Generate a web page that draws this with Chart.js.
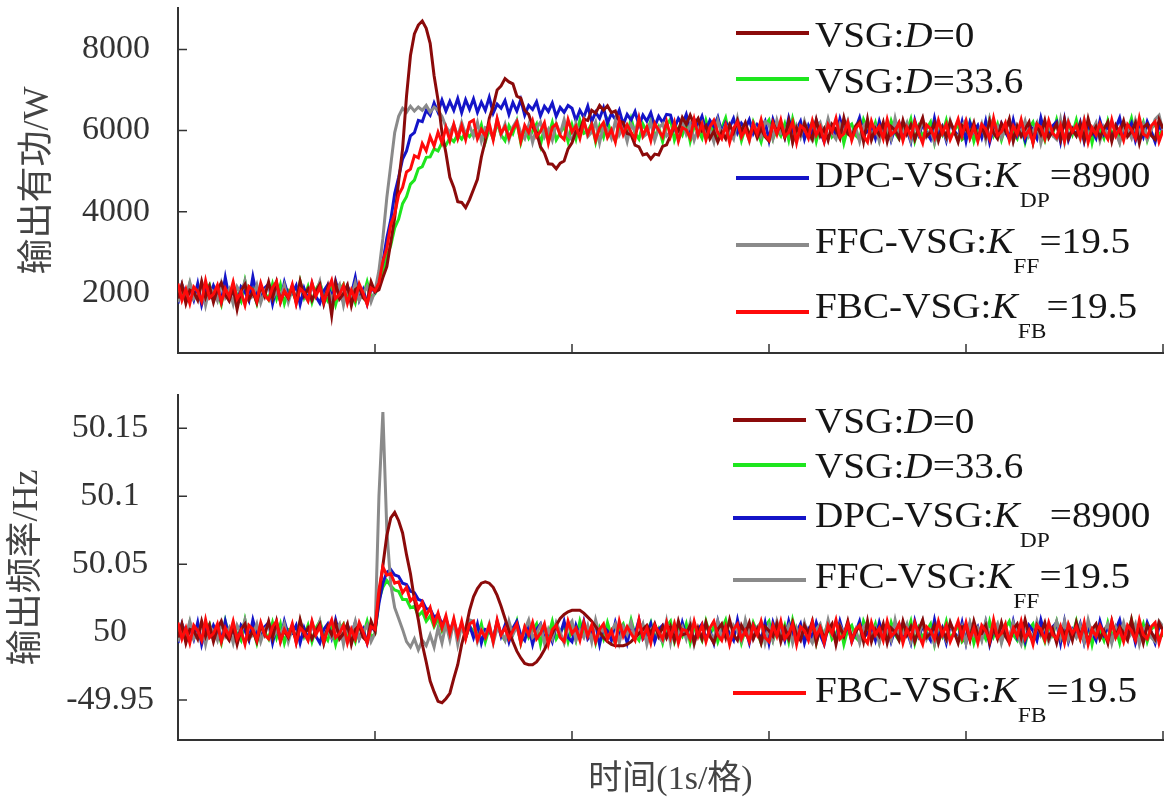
<!DOCTYPE html>
<html lang="zh">
<head>
<meta charset="utf-8">
<title>VSG 输出有功与频率</title>
<script src="https://cdn.jsdelivr.net/npm/chart.js@4.4.1/dist/chart.umd.min.js"></script>
<style>
  html, body { margin: 0; padding: 0; background: #fff; }
  body { position: relative; width: 1170px; height: 807px; overflow: hidden;
         font-family: 'Liberation Serif', 'Noto Sans CJK SC', serif; }
  .panel { position: absolute; left: 0; width: 1170px; }
  .panel canvas { display: block; }
  #powerPanel { top: 0; height: 365px; }
  #freqPanel { top: 380px; height: 427px; }
  .swatch { position: absolute; width: 73px; height: 4px; }
  .label { position: absolute; font-size: 35px; line-height: 35px; color: #151515;
           white-space: nowrap; transform: scaleX(1.12); transform-origin: 0 0; }
  .label sub { font-size: 21px; line-height: 0; vertical-align: -20px; }
</style>
</head>
<body>
<div class="panel" id="powerPanel"><canvas id="powerChart" width="1170" height="365"></canvas></div>
<div class="panel" id="freqPanel"><canvas id="freqChart" width="1170" height="427"></canvas></div>

<script>
// sample times (s), one point every 0.02 s
const time = [
  0,0.02,0.04,0.06,0.08,0.1,0.12,0.14,0.16,0.18,0.2,0.22,0.24,0.26,0.28,0.3,0.32,0.34,0.36,0.38,0.4,0.42,0.44,0.46,0.48,
  0.5,0.52,0.54,0.56,0.58,0.6,0.62,0.64,0.66,0.68,0.7,0.72,0.74,0.76,0.78,0.8,0.82,0.84,0.86,0.88,0.9,0.92,0.94,0.96,0.98,
  1,1.02,1.04,1.06,1.08,1.1,1.12,1.14,1.16,1.18,1.2,1.22,1.24,1.26,1.28,1.3,1.32,1.34,1.36,1.38,1.4,1.42,1.44,1.46,1.48,
  1.5,1.52,1.54,1.56,1.58,1.6,1.62,1.64,1.66,1.68,1.7,1.72,1.74,1.76,1.78,1.8,1.82,1.84,1.86,1.88,1.9,1.92,1.94,1.96,1.98,
  2,2.02,2.04,2.06,2.08,2.1,2.12,2.14,2.16,2.18,2.2,2.22,2.24,2.26,2.28,2.3,2.32,2.34,2.36,2.38,2.4,2.42,2.44,2.46,2.48,
  2.5,2.52,2.54,2.56,2.58,2.6,2.62,2.64,2.66,2.68,2.7,2.72,2.74,2.76,2.78,2.8,2.82,2.84,2.86,2.88,2.9,2.92,2.94,2.96,2.98,
  3,3.02,3.04,3.06,3.08,3.1,3.12,3.14,3.16,3.18,3.2,3.22,3.24,3.26,3.28,3.3,3.32,3.34,3.36,3.38,3.4,3.42,3.44,3.46,3.48,
  3.5,3.52,3.54,3.56,3.58,3.6,3.62,3.64,3.66,3.68,3.7,3.72,3.74,3.76,3.78,3.8,3.82,3.84,3.86,3.88,3.9,3.92,3.94,3.96,3.98,
  4,4.02,4.04,4.06,4.08,4.1,4.12,4.14,4.16,4.18,4.2,4.22,4.24,4.26,4.28,4.3,4.32,4.34,4.36,4.38,4.4,4.42,4.44,4.46,4.48,
  4.5,4.52,4.54,4.56,4.58,4.6,4.62,4.64,4.66,4.68,4.7,4.72,4.74,4.76,4.78,4.8,4.82,4.84,4.86,4.88,4.9,4.92,4.94,4.96,4.98,
  5
];

const seriesNames = ['VSG:D=0', 'VSG:D=33.6', 'DPC-VSG:KDP=8900', 'FFC-VSG:KFF=19.5', 'FBC-VSG:KFB=19.5'];
const legendHtml = [
  'VSG:<i>D</i>=0',
  'VSG:<i>D</i>=33.6',
  'DPC-VSG:<i>K</i><sub>DP</sub>=8900',
  'FFC-VSG:<i>K</i><sub>FF</sub>=19.5',
  'FBC-VSG:<i>K</i><sub>FB</sub>=19.5'
];
const seriesColors = ['#8b0a0a', '#1ee61e', '#1414c8', '#8a8a8a', '#ff0a0a'];

const xTicks = [1, 2, 3, 4, 5];
const powerTicks = [2000, 4000, 6000, 8000];
const freqTicks = [49.95, 50, 50.05, 50.1, 50.15];
const freqTickLabels = ['-49.95', '50', '50.05', '50.1', '50.15'];

// ---- output active power (W), one row per 0.5 s ----
const powerD0 = [
  1860,2200,1740,2070,2020,1820,2280,1890,2160,1770,2090,2250,1950,1800,2130,1600,2060,2210,1840,2030,1760,2170,1920,2270,1880,
  2260,1800,2030,1870,2170,1770,2290,1930,2100,1820,2040,2210,1740,2130,1450,2240,1850,1980,2190,1690,2080,2160,1880,1780,2270,
  2020,2080,2380,2650,3250,3850,4750,5550,6850,7850,8380,8600,8700,8520,8150,7350,6750,5950,5450,4850,4600,4250,4230,4100,4300,
  4550,4800,5350,5750,6300,6600,7000,7100,7280,7200,7150,6850,6800,6500,6400,6100,5950,5600,5450,5180,5170,5060,5200,5250,5550,
  5700,5980,6000,6280,6250,6500,6430,6620,6500,6610,6440,6480,6230,6200,5930,5900,5640,5600,5400,5430,5300,5420,5400,5610,5650,
  5880,6100,6000,6320,6150,6380,6150,6300,6000,6120,5800,5980,5720,5960,5800,6140,5950,6250,5980,6200,5880,6100,5820,6050,5850,
  5740,6200,5970,6130,5830,6230,5710,6070,5900,6180,5960,5790,6260,5870,6050,5760,6150,6020,5810,6310,5920,5840,6120,6220,5730,
  6280,5770,6050,5890,6200,5730,6100,6010,5810,6250,5920,6140,5780,6060,6310,5860,5960,6180,5750,6070,5840,6220,5990,5720,6120,
  6030,5890,6190,5770,6090,5850,6240,5940,5800,6170,5980,6280,5750,6100,5860,6040,6210,5700,6130,5910,6250,5820,5990,6160,5780,
  6260,5800,6030,5870,6170,5770,6290,5930,6100,5820,6040,6210,5740,6130,5950,6240,5850,5980,6190,5690,6080,6160,5880,5780,6270,
  6050
];
const powerD336 = [
  1970,2110,1810,2230,1910,2150,1760,2060,2200,1830,2020,1720,2250,1900,2140,1960,1790,2300,1870,2090,1750,2180,2010,1840,2220,
  1860,2200,1740,2070,2020,1820,2280,1890,2160,1770,2090,2250,1950,1800,2130,1710,2060,2210,1840,2030,1760,2170,1920,2270,1880,
  1980,2230,2460,2900,3170,3600,3820,4200,4370,4680,4780,5060,5110,5340,5350,5550,5500,5700,5640,5820,5730,5900,5790,5960,5850,
  5980,5840,6140,5720,6040,5800,6190,5890,5750,6120,5930,6230,5700,6050,5810,5990,6160,5650,6080,5860,6200,5770,5940,6110,5730,
  6140,5800,6260,5930,5980,6180,5720,6110,5840,6230,5910,5750,6050,6200,5870,6290,5940,5790,6160,5970,6240,5830,6080,5730,6120,
  6280,5770,6050,5890,6200,5730,6100,6010,5810,6250,5920,6140,5780,6060,6310,5860,5960,6180,5750,6070,5840,6220,5990,5720,6120,
  6260,5800,6030,5870,6170,5770,6290,5930,6100,5820,6040,6210,5740,6130,5950,6240,5850,5980,6190,5690,6080,6160,5880,5780,6270,
  6030,5890,6190,5770,6090,5850,6240,5940,5800,6170,5980,6280,5750,6100,5860,6040,6210,5700,6130,5910,6250,5820,5990,6160,5780,
  5860,6200,5740,6070,6020,5820,6280,5890,6160,5770,6090,6250,5950,5800,6130,5710,6060,6210,5840,6030,5760,6170,5920,6270,5880,
  5770,6180,5910,6260,5850,5960,6210,5700,6120,6030,5810,6240,5890,6090,5730,6150,5980,6300,5840,5920,6200,5760,6060,6170,5870,
  6040
];
const powerDPC = [
  1740,2200,1970,2130,1830,2230,1710,2070,1900,2180,1960,1790,2380,1870,2050,1760,2150,2020,1810,2400,1920,1840,2120,2220,1730,
  2140,1800,2260,1930,1980,2180,1720,2110,1840,2230,1910,1750,2050,2200,1870,2290,1940,1790,2160,1970,2380,1830,2080,1730,2120,
  2020,2380,2760,3350,3800,4450,4850,5300,5500,5870,5950,6250,6220,6500,6380,6680,6450,6750,6480,6720,6500,6790,6440,6760,6520,
  6780,6450,6700,6500,6820,6430,6650,6550,6740,6400,6690,6480,6760,6380,6620,6520,6710,6360,6600,6470,6680,6350,6570,6450,6620,
  6550,6250,6500,6330,6600,6220,6450,6300,6560,6180,6420,6280,6500,6150,6400,6260,6470,6130,6380,6230,6440,6100,6350,6200,6400,
  6380,6060,6300,6150,6400,6020,6280,6120,6350,5990,6250,6100,6330,5960,6200,6080,6300,5950,6180,6050,6270,5930,6150,6040,6230,
  5760,6270,5990,6150,5840,6310,5940,6030,6230,5790,6120,5900,6260,5980,5730,6180,6080,5860,6290,5970,6200,5820,6050,6320,5920,
  5970,6110,5810,6230,5910,6150,5760,6060,6200,5830,6020,5720,6250,5900,6140,5960,5790,6300,5870,6090,5750,6180,6010,5840,6220,
  5740,6200,5970,6130,5830,6230,5710,6070,5900,6180,5960,5790,6260,5870,6050,5760,6150,6020,5810,6310,5920,5840,6120,6220,5730,
  6280,5770,6050,5890,6200,5730,6100,6010,5810,6250,5920,6140,5780,6060,6310,5860,5960,6180,5750,6070,5840,6220,5990,5720,6120,
  5980
];
const powerFFC = [
  1770,2180,1910,2260,1850,1960,2210,1700,2120,2030,1810,2240,1890,2090,1730,2150,1980,2300,1840,1920,2200,1760,2060,2170,1870,
  2030,1890,2190,1770,2090,1850,2240,1940,1800,2170,1980,2280,1750,2100,1860,2040,2210,1700,2130,1910,2250,1820,1990,2160,1780,
  2050,2550,3350,4350,5150,5950,6350,6550,6450,6600,6480,6580,6500,6620,6450,6580,6500,6350,6100,5950,6150,5850,6200,5900,6120,
  5860,6200,5740,6070,6020,5820,6280,5890,6160,5770,6090,6250,5950,5800,6130,5710,6060,6210,5840,6030,5760,6170,5920,6270,5880,
  5770,6180,5910,6260,5850,5960,6210,5700,6120,6030,5810,6240,5890,6090,5730,6150,5980,6300,5840,5920,6200,5760,6060,6170,5870,
  5970,6110,5810,6230,5910,6150,5760,6060,6200,5830,6020,5720,6250,5900,6140,5960,5790,6300,5870,6090,5750,6180,6010,5840,6220,
  6140,5800,6260,5930,5980,6180,5720,6110,5840,6230,5910,5750,6050,6200,5870,6290,5940,5790,6160,5970,6240,5830,6080,5730,6120,
  6230,5820,6090,5740,6150,6040,5790,6300,5880,5970,6190,5760,6110,5910,6270,5850,6020,5700,6160,6080,5800,6240,5940,5830,6130,
  6260,5800,6030,5870,6170,5770,6290,5930,6100,5820,6040,6210,5740,6130,5950,6240,5850,5980,6190,5690,6080,6160,5880,5780,6270,
  5720,6230,5950,6110,5800,6270,5900,5990,6190,5750,6080,5860,6220,5940,5690,6140,6040,5820,6250,5930,6160,5780,6010,6280,6380,
  5990
];
const powerFBC = [
  2230,1820,2090,1740,2150,2040,1790,2300,1880,1970,2190,1760,2110,1910,2270,1850,2020,1700,2160,2080,1800,2240,1940,1830,2130,
  2280,1770,2050,1890,2200,1730,2100,2010,1810,2250,1920,2140,1780,2060,2310,1860,1960,2180,1750,2070,1840,2220,1990,1720,2120,
  2050,2250,2780,3100,3680,3950,4420,4600,4980,5050,5380,5330,5680,5500,5850,5620,5960,5700,6080,5750,6150,5800,6120,5780,6200,
  6260,5800,6030,5870,6170,5770,6290,5930,6100,5820,6040,6210,5740,6130,5950,6240,5850,5980,6190,5690,6080,6160,5880,5780,6270,
  5970,6110,5810,6230,5910,6150,5760,6060,6200,5830,6020,5720,6250,5900,6140,5960,5790,6300,5870,6090,5750,6180,6010,5840,6220,
  5860,6200,5740,6070,6020,5820,6280,5890,6160,5770,6090,6250,5950,5800,6130,5710,6060,6210,5840,6030,5760,6170,5920,6270,5880,
  5770,6180,5910,6260,5850,5960,6210,5700,6120,6030,5810,6240,5890,6090,5730,6150,5980,6300,5840,5920,6200,5760,6060,6170,5870,
  5720,6230,5950,6110,5800,6270,5900,5990,6190,5750,6080,5860,6220,5940,5690,6140,6040,5820,6250,5930,6160,5780,6010,6280,5880,
  6230,5820,6090,5740,6150,6040,5790,6300,5880,5970,6190,5760,6110,5910,6270,5850,6020,5700,6160,6080,5800,6240,5940,5830,6130,
  5740,6200,5970,6130,5830,6230,5710,6070,5900,6180,5960,5790,6260,5870,6050,5760,6150,6020,5810,6310,5920,5840,6120,6220,5730,
  6000
];

// ---- output frequency (Hz), one row per 0.5 s ----
const freqD0 = [
  49.996,50.006,49.992,50.002,50.001,49.995,50.008,49.997,50.005,49.993,50.003,50.008,49.998,49.994,50.004,49.991,50.002,50.006,49.995,50.001,49.993,50.005,49.998,50.008,49.996,
  50.008,49.994,50.001,49.996,50.005,49.993,50.009,49.998,50.003,49.995,50.001,50.006,49.992,50.004,49.998,50.007,49.995,49.999,50.006,49.991,50.002,50.005,49.996,49.993,50.008,
  50.001,50.026,50.049,50.071,50.084,50.088,50.082,50.073,50.057,50.043,50.024,50.009,49.991,49.978,49.964,49.956,49.949,49.948,49.951,49.955,49.966,49.976,49.991,50.002,50.016,
  50.026,50.032,50.036,50.037,50.036,50.033,50.027,50.019,50.010,50.001,49.993,49.986,49.981,49.977,49.976,49.976,49.978,49.982,49.987,49.993,49.999,50.005,50.010,50.013,50.015,
  50.016,50.016,50.016,50.014,50.011,50.008,50.004,50.000,49.996,49.993,49.991,49.990,49.990,49.990,49.991,49.993,49.996,49.999,50.002,50.005,49.999,50.006,49.997,50.004,49.996,
  50.004,49.994,50.008,49.998,49.999,50.005,49.992,50.003,49.995,50.007,49.997,49.992,50.002,50.006,49.996,50.009,49.998,49.994,50.005,49.999,50.007,49.995,50.002,49.992,50.004,
  50.001,49.997,50.006,49.993,50.003,49.995,50.007,49.998,49.994,50.005,49.999,50.008,49.992,50.003,49.996,50.001,50.006,49.991,50.004,49.997,50.008,49.995,50.000,50.005,49.993,
  50.008,49.993,50.002,49.997,50.006,49.992,50.003,50.000,49.994,50.008,49.998,50.004,49.993,50.002,50.009,49.996,49.999,50.005,49.992,50.002,49.995,50.007,50.000,49.992,50.004,
  50.004,49.994,50.008,49.998,49.999,50.005,49.992,50.003,49.995,50.007,49.997,49.992,50.002,50.006,49.996,50.009,49.998,49.994,50.005,49.999,50.007,49.995,50.002,49.992,50.004,
  49.999,50.003,49.994,50.007,49.997,50.005,49.993,50.002,50.006,49.995,50.001,49.992,50.008,49.997,50.004,49.999,49.994,50.009,49.996,50.003,49.992,50.005,50.000,49.995,50.007,
  50.001
];
const freqD336 = [
  49.999,50.003,49.994,50.007,49.997,50.005,49.993,50.002,50.006,49.995,50.001,49.992,50.008,49.997,50.004,49.999,49.994,50.009,49.996,50.003,49.992,50.005,50.000,49.995,50.007,
  49.996,50.006,49.992,50.002,50.001,49.995,50.008,49.997,50.005,49.993,50.003,50.008,49.998,49.994,50.004,49.991,50.002,50.006,49.995,50.001,49.993,50.005,49.998,50.008,49.996,
  49.999,50.024,50.033,50.038,50.034,50.031,50.030,50.024,50.024,50.018,50.019,50.012,50.015,50.008,50.012,50.004,50.010,50.001,50.008,49.998,50.006,49.997,50.005,49.996,50.004,
  50.001,49.997,50.006,49.993,50.003,49.995,50.007,49.998,49.994,50.005,49.999,50.008,49.992,50.003,49.996,50.001,50.006,49.991,50.004,49.997,50.008,49.995,50.000,50.005,49.993,
  50.004,49.994,50.008,49.998,49.999,50.005,49.992,50.003,49.995,50.007,49.997,49.992,50.002,50.006,49.996,50.009,49.998,49.994,50.005,49.999,50.007,49.995,50.002,49.992,50.004,
  50.008,49.993,50.002,49.997,50.006,49.992,50.003,50.000,49.994,50.008,49.998,50.004,49.993,50.002,50.009,49.996,49.999,50.005,49.992,50.002,49.995,50.007,50.000,49.992,50.004,
  50.008,49.994,50.001,49.996,50.005,49.993,50.009,49.998,50.003,49.995,50.001,50.006,49.992,50.004,49.998,50.007,49.995,49.999,50.006,49.991,50.002,50.005,49.996,49.993,50.008,
  50.001,49.997,50.006,49.993,50.003,49.995,50.007,49.998,49.994,50.005,49.999,50.008,49.992,50.003,49.996,50.001,50.006,49.991,50.004,49.997,50.008,49.995,50.000,50.005,49.993,
  49.996,50.006,49.992,50.002,50.001,49.995,50.008,49.997,50.005,49.993,50.003,50.008,49.998,49.994,50.004,49.991,50.002,50.006,49.995,50.001,49.993,50.005,49.998,50.008,49.996,
  49.993,50.005,49.997,50.008,49.995,49.999,50.006,49.991,50.004,50.001,49.994,50.007,49.997,50.003,49.992,50.005,49.999,50.009,49.995,49.998,50.006,49.993,50.002,50.005,49.996,
  49.998
];
const freqDPC = [
  49.992,50.006,49.999,50.004,49.995,50.007,49.991,50.002,49.997,50.005,49.999,49.994,50.008,49.996,50.002,49.993,50.005,50.001,49.994,50.009,49.998,49.995,50.004,50.007,49.992,
  50.004,49.994,50.008,49.998,49.999,50.005,49.992,50.003,49.995,50.007,49.997,49.992,50.002,50.006,49.996,50.009,49.998,49.994,50.005,49.999,50.007,49.995,50.002,49.992,50.004,
  50.001,50.021,50.036,50.044,50.046,50.042,50.041,50.036,50.035,50.030,50.029,50.024,50.023,50.017,50.017,50.011,50.013,50.006,50.010,50.001,50.008,49.998,50.006,49.996,50.005,
  49.996,50.006,49.992,50.002,50.001,49.995,50.008,49.997,50.005,49.993,50.003,50.008,49.998,49.994,50.004,49.991,50.002,50.006,49.995,50.001,49.993,50.005,49.998,50.008,49.996,
  49.993,50.005,49.997,50.008,49.995,49.999,50.006,49.991,50.004,50.001,49.994,50.007,49.997,50.003,49.992,50.005,49.999,50.009,49.995,49.998,50.006,49.993,50.002,50.005,49.996,
  49.999,50.003,49.994,50.007,49.997,50.005,49.993,50.002,50.006,49.995,50.001,49.992,50.008,49.997,50.004,49.999,49.994,50.009,49.996,50.003,49.992,50.005,50.000,49.995,50.007,
  49.992,50.007,49.998,50.003,49.994,50.008,49.997,50.000,50.006,49.992,50.002,49.996,50.007,49.998,49.991,50.004,50.001,49.995,50.008,49.998,50.005,49.993,50.000,50.008,49.996,
  49.999,50.003,49.994,50.007,49.997,50.005,49.993,50.002,50.006,49.995,50.001,49.992,50.008,49.997,50.004,49.999,49.994,50.009,49.996,50.003,49.992,50.005,50.000,49.995,50.007,
  49.992,50.006,49.999,50.004,49.995,50.007,49.991,50.002,49.997,50.005,49.999,49.994,50.008,49.996,50.002,49.993,50.005,50.001,49.994,50.009,49.998,49.995,50.004,50.007,49.992,
  50.008,49.993,50.002,49.997,50.006,49.992,50.003,50.000,49.994,50.008,49.998,50.004,49.993,50.002,50.009,49.996,49.999,50.005,49.992,50.002,49.995,50.007,50.000,49.992,50.004,
  50.003
];
const freqFFC = [
  49.993,50.005,49.997,50.008,49.995,49.999,50.006,49.991,50.004,50.001,49.994,50.007,49.997,50.003,49.992,50.005,49.999,50.009,49.995,49.998,50.006,49.993,50.002,50.005,49.996,
  50.001,49.997,50.006,49.993,50.003,49.995,50.007,49.998,49.994,50.005,49.999,50.008,49.992,50.003,49.996,50.001,50.006,49.991,50.004,49.997,50.008,49.995,50.000,50.005,49.993,
  49.999,50.100,50.162,50.075,50.035,50.018,50.010,50.002,49.993,49.989,49.995,49.987,49.994,49.990,49.998,49.989,50.003,49.992,50.006,49.994,50.008,49.991,50.005,49.996,50.009,
  50.008,49.993,50.002,49.997,50.006,49.992,50.003,50.000,49.994,50.008,49.998,50.004,49.993,50.002,50.009,49.996,49.999,50.005,49.992,50.002,49.995,50.007,50.000,49.992,50.004,
  50.008,49.994,50.001,49.996,50.005,49.993,50.009,49.998,50.003,49.995,50.001,50.006,49.992,50.004,49.998,50.007,49.995,49.999,50.006,49.991,50.002,50.005,49.996,49.993,50.008,
  49.992,50.006,49.999,50.004,49.995,50.007,49.991,50.002,49.997,50.005,49.999,49.994,50.008,49.996,50.002,49.993,50.005,50.001,49.994,50.009,49.998,49.995,50.004,50.007,49.992,
  50.004,49.994,50.008,49.998,49.999,50.005,49.992,50.003,49.995,50.007,49.997,49.992,50.002,50.006,49.996,50.009,49.998,49.994,50.005,49.999,50.007,49.995,50.002,49.992,50.004,
  50.007,49.995,50.003,49.992,50.005,50.001,49.994,50.009,49.996,49.999,50.006,49.993,50.003,49.997,50.008,49.995,50.001,49.991,50.005,50.002,49.994,50.007,49.998,49.995,50.004,
  49.992,50.007,49.998,50.003,49.994,50.008,49.997,50.000,50.006,49.992,50.002,49.996,50.007,49.998,49.991,50.004,50.001,49.995,50.008,49.998,50.005,49.993,50.000,50.008,49.996,
  50.008,49.994,50.001,49.996,50.005,49.993,50.009,49.998,50.003,49.995,50.001,50.006,49.992,50.004,49.998,50.007,49.995,49.999,50.006,49.991,50.002,50.005,49.996,49.993,50.008,
  50.004
];
const freqFBC = [
  50.007,49.995,50.003,49.992,50.005,50.001,49.994,50.009,49.996,49.999,50.006,49.993,50.003,49.997,50.008,49.995,50.001,49.991,50.005,50.002,49.994,50.007,49.998,49.995,50.004,
  50.008,49.993,50.002,49.997,50.006,49.992,50.003,50.000,49.994,50.008,49.998,50.004,49.993,50.002,50.009,49.996,49.999,50.005,49.992,50.002,49.995,50.007,50.000,49.992,50.004,
  50.002,50.031,50.048,50.042,50.043,50.036,50.037,50.029,50.033,50.023,50.026,50.017,50.022,50.012,50.018,50.006,50.014,50.003,50.012,49.999,50.010,49.997,50.008,49.995,50.006,
  50.008,49.994,50.001,49.996,50.005,49.993,50.009,49.998,50.003,49.995,50.001,50.006,49.992,50.004,49.998,50.007,49.995,49.999,50.006,49.991,50.002,50.005,49.996,49.993,50.008,
  49.999,50.003,49.994,50.007,49.997,50.005,49.993,50.002,50.006,49.995,50.001,49.992,50.008,49.997,50.004,49.999,49.994,50.009,49.996,50.003,49.992,50.005,50.000,49.995,50.007,
  49.996,50.006,49.992,50.002,50.001,49.995,50.008,49.997,50.005,49.993,50.003,50.008,49.998,49.994,50.004,49.991,50.002,50.006,49.995,50.001,49.993,50.005,49.998,50.008,49.996,
  49.993,50.005,49.997,50.008,49.995,49.999,50.006,49.991,50.004,50.001,49.994,50.007,49.997,50.003,49.992,50.005,49.999,50.009,49.995,49.998,50.006,49.993,50.002,50.005,49.996,
  49.992,50.007,49.998,50.003,49.994,50.008,49.997,50.000,50.006,49.992,50.002,49.996,50.007,49.998,49.991,50.004,50.001,49.995,50.008,49.998,50.005,49.993,50.000,50.008,49.996,
  50.007,49.995,50.003,49.992,50.005,50.001,49.994,50.009,49.996,49.999,50.006,49.993,50.003,49.997,50.008,49.995,50.001,49.991,50.005,50.002,49.994,50.007,49.998,49.995,50.004,
  49.992,50.006,49.999,50.004,49.995,50.007,49.991,50.002,49.997,50.005,49.999,49.994,50.008,49.996,50.002,49.993,50.005,50.001,49.994,50.009,49.998,49.995,50.004,50.007,49.992,
  50.002
];

// red drawn on top, green at the bottom
const drawOrder = [1, 4, 3, 2, 0];
const AXIS = '#333';
const SERIF = "'Liberation Serif', 'Noto Sans CJK SC', serif";

function makeDatasets(list) {
  return list.map((vals, k) => {
    if (vals.length !== time.length) console.warn(seriesNames[k], vals.length);
    return {
      label: seriesNames[k],
      data: vals.map((v, i) => ({ x: time[i], y: v })),
      borderColor: seriesColors[k],
      borderWidth: 3,
      pointRadius: 0,
      tension: 0,
      order: drawOrder[k]
    };
  });
}

// tick marks pointing into the plot, like the original figure
const innerTicks = {
  id: 'innerTicks',
  beforeDatasetsDraw(chart) {
    const { ctx, chartArea, scales: { x, y } } = chart;
    ctx.save();
    ctx.strokeStyle = AXIS;
    ctx.lineWidth = 1.5;
    ctx.beginPath();
    xTicks.forEach(v => {
      const px = x.getPixelForValue(v);
      ctx.moveTo(px, chartArea.bottom);
      ctx.lineTo(px, chartArea.bottom - 9);
    });
    y.ticks.forEach(t => {
      const py = y.getPixelForValue(t.value);
      ctx.moveTo(chartArea.left, py);
      ctx.lineTo(chartArea.left + 9, py);
    });
    ctx.stroke();
    ctx.restore();
  }
};

function makeChart(id, cfg) {
  return new Chart(document.getElementById(id), {
    type: 'line',
    data: { datasets: makeDatasets(cfg.series) },
    options: {
      responsive: false,
      animation: false,
      devicePixelRatio: 1,
      layout: { padding: { top: cfg.padTop, right: 7, left: 0, bottom: 0 } },
      plugins: { legend: { display: false }, tooltip: { enabled: false } },
      scales: {
        x: {
          type: 'linear', min: 0, max: 5,
          grid: { display: false, drawTicks: false },
          border: { display: true, color: AXIS, width: 2 },
          ticks: { display: false },
          title: cfg.xTitle ? {
            display: true, text: cfg.xTitle, color: '#444',
            font: { family: SERIF, size: 34 }, padding: { top: 0, bottom: 7 }
          } : { display: false },
          afterFit: s => {
            s.height = cfg.xHeight;
            s.paddingLeft = 0; s.paddingRight = 0;
          }
        },
        y: {
          type: 'linear', min: cfg.min, max: cfg.max,
          grid: { display: false, drawTicks: false },
          border: { display: true, color: AXIS, width: 2 },
          afterBuildTicks: s => { s.ticks = cfg.ticks.map(v => ({ value: v })); },
          ticks: {
            color: '#333', font: { family: SERIF, size: 34 },
            padding: cfg.tickPad, crossAlign: cfg.crossAlign,
            callback: cfg.tickLabel
          },
          title: {
            display: true, text: cfg.yTitle, color: '#444',
            font: { family: SERIF, size: 36 }, padding: { top: cfg.yTitlePad, bottom: 0 }
          },
          afterFit: s => {
            s.width = 178;
            // the tick labels sit well inside the axis, so no extra room is needed
            s.paddingTop = 0; s.paddingBottom = 0;
          }
        }
      }
    },
    plugins: [innerTicks]
  });
}

makeChart('powerChart', {
  series: [powerD0, powerD336, powerDPC, powerFFC, powerFBC],
  min: 520, max: 9020, ticks: powerTicks,
  tickLabel: v => String(v), tickPad: 28, crossAlign: 'near',
  yTitle: '输出有功/W', yTitlePad: 17,
  padTop: 8, xHeight: 12
});

makeChart('freqChart', {
  series: [freqD0, freqD336, freqDPC, freqFFC, freqFBC],
  min: 49.9206, max: 50.1745, ticks: freqTicks,
  tickLabel: v => freqTickLabels[freqTicks.findIndex(t => Math.abs(t - v) < 1e-6)],
  tickPad: 24, crossAlign: 'center',
  yTitle: '输出频率/Hz', yTitlePad: 6,
  padTop: 15, xHeight: 67, xTitle: '时间(1s/格)'
});

// legends with italic symbols and subscripts, placed inside each plot
const legendRows = [
  { swatchX: 736, lineY: [33, 79, 178, 245, 312], baseY: [47, 93, 187, 253, 318] },
  { swatchX: 733, lineY: [420, 465, 518, 580, 693], baseY: [433, 478, 527, 588, 702] }
];
legendRows.forEach(rows => {
  legendHtml.forEach((html, k) => {
    const sw = document.createElement('div');
    sw.className = 'swatch';
    sw.style.left = rows.swatchX + 'px';
    sw.style.top = (rows.lineY[k] - 2) + 'px';
    sw.style.background = seriesColors[k];
    document.body.appendChild(sw);

    const lab = document.createElement('div');
    lab.className = 'label';
    lab.style.left = '815px';
    lab.style.top = (rows.baseY[k] - 29) + 'px';
    lab.innerHTML = html;
    document.body.appendChild(lab);
  });
});
</script>
</body>
</html>
